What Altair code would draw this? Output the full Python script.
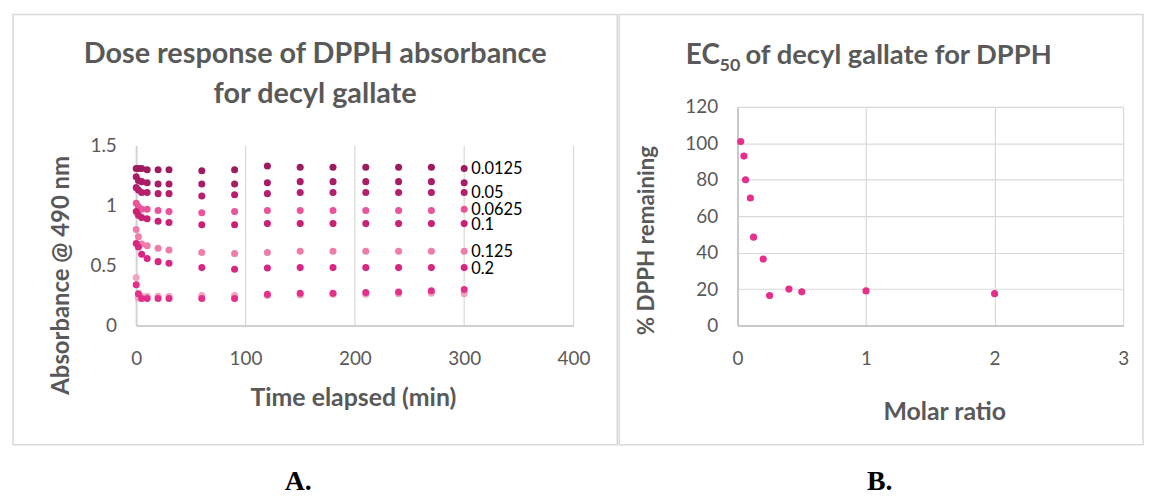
import altair as alt
import pandas as pd

# ---------------- data: panel A ----------------
times = [0, 2, 5, 10, 20, 30, 60, 90, 120, 150, 180, 210, 240, 270, 300]
series_names = ["0.0125", "0.025", "0.05", "0.0625", "0.1", "0.125", "0.2", "0.25", "0.5"]
abs_0_0125 = [1.31, 1.31, 1.31, 1.30, 1.30, 1.30, 1.29, 1.30, 1.33, 1.32, 1.32, 1.32, 1.32, 1.32, 1.31]
abs_0_025 = [1.24, 1.21, 1.20, 1.19, 1.18, 1.18, 1.18, 1.18, 1.19, 1.20, 1.20, 1.20, 1.20, 1.20, 1.19]
abs_0_05 = [1.15, 1.13, 1.11, 1.11, 1.10, 1.10, 1.08, 1.09, 1.10, 1.11, 1.11, 1.11, 1.11, 1.11, 1.11]
abs_0_0625 = [1.02, 0.99, 0.97, 0.97, 0.96, 0.95, 0.94, 0.95, 0.96, 0.96, 0.96, 0.96, 0.96, 0.96, 0.97]
abs_0_1 = [0.95, 0.92, 0.90, 0.89, 0.87, 0.86, 0.84, 0.84, 0.85, 0.85, 0.85, 0.85, 0.85, 0.85, 0.85]
abs_0_125 = [0.80, 0.74, 0.68, 0.665, 0.645, 0.63, 0.61, 0.60, 0.61, 0.62, 0.62, 0.62, 0.62, 0.62, 0.62]
abs_0_2 = [0.685, 0.655, 0.594, 0.56, 0.533, 0.52, 0.483, 0.47, 0.48, 0.483, 0.483, 0.483, 0.483, 0.483, 0.483]
abs_0_25 = [0.40, 0.23, 0.245, 0.245, 0.245, 0.245, 0.25, 0.25, 0.25, 0.255, 0.26, 0.26, 0.265, 0.27, 0.265]
abs_0_5 = [0.34, 0.265, 0.225, 0.225, 0.225, 0.225, 0.225, 0.225, 0.26, 0.27, 0.27, 0.275, 0.28, 0.29, 0.30]
series_values = [abs_0_0125, abs_0_025, abs_0_05, abs_0_0625, abs_0_1,
                 abs_0_125, abs_0_2, abs_0_25, abs_0_5]
series_colors = ["#9e1b5f", "#a91d66", "#b5206d", "#e9559a", "#c92174",
                 "#ee7dab", "#d82783", "#f0a4c3", "#e2308b"]
labelled_series = ["0.0125", "0.05", "0.0625", "0.1", "0.125", "0.2"]
time_ticks = [0, 100, 200, 300, 400]
abs_ticks = [0, 0.5, 1, 1.5]

# ---------------- data: panel B ----------------
molar_ratio = [0.025, 0.05, 0.0625, 0.1, 0.125, 0.2, 0.25, 0.4, 0.5, 1, 2]
pct_remaining = [101, 93, 80, 70, 48.5, 36.5, 16.5, 20, 18.5, 19, 17.5]
ratio_ticks = [0, 1, 2, 3]
pct_ticks = [0, 20, 40, 60, 80, 100, 120]

rows = []
for name, vals in zip(series_names, series_values):
    for t, v in zip(times, vals):
        rows.append({"series": name, "time": t, "absorbance": v})
dfA = pd.DataFrame(rows)
dfA_lab = pd.DataFrame([
    {"series": n, "time": times[-1], "absorbance": series_values[series_names.index(n)][-1]}
    for n in labelled_series
])
dfA_grid = pd.DataFrame({"gx": time_ticks})
dfB = pd.DataFrame({"ratio": molar_ratio, "pct": pct_remaining})
one = pd.DataFrame({"k": [0]})

FONT = "Lato"
GREY = "#595959"
GRID = "#d9d9d9"
FRAME = "#d9d9d9"

# both plot areas share the same top edge so that hconcat aligns them;
# panel A's y range only uses the lower 181 px of its 220 px
W1, H = 440, 220
A_TOP = 39
W2 = 388

def frame(x1, x2, y1, y2):
    return alt.Chart(one).mark_rect(fill="transparent", stroke=FRAME, strokeWidth=1.5).encode(
        x=alt.value(x1), x2=alt.value(x2), y=alt.value(y1), y2=alt.value(y2))

def txt(s, x, y, size, weight="bold", color=GREY, font=FONT, align="center", baseline="middle"):
    return alt.Chart(one).mark_text(text=s, font=font, fontSize=size, fontWeight=weight,
                                    color=color, align=align, baseline=baseline).encode(
        x=alt.value(x), y=alt.value(y))

# ---------------- panel A ----------------
xA = alt.Scale(domain=[0, 400], nice=False)
yA = alt.Scale(domain=[0, 1.5], nice=False, range=[H, A_TOP])

vgrid = alt.Chart(dfA_grid).mark_rule(color=GRID, strokeWidth=1.2).encode(
    x=alt.X("gx:Q", scale=xA), y=alt.datum(0), y2=alt.datum(1.5))

ptsA = alt.Chart(dfA).mark_circle(size=50, opacity=1).encode(
    x=alt.X("time:Q", scale=xA,
            axis=alt.Axis(values=time_ticks, grid=False, title="Time elapsed (min)",
                          titleX=218, titleY=72, titleBaseline="middle", titleFontSize=25,
                          labelPadding=24, labelFlush=False)),
    y=alt.Y("absorbance:Q", scale=yA,
            axis=alt.Axis(values=abs_ticks, format="~g", title="Absorbance @ 490 nm",
                          titleX=-75, titleY=130 + A_TOP, titleBaseline="middle", titleAlign="center",
                          titleFontSize=24, labelPadding=20, labelFlush=False)),
    color=alt.Color("series:N", scale=alt.Scale(domain=series_names, range=series_colors), legend=None),
)
labA = alt.Chart(dfA_lab).mark_text(align="left", baseline="middle", dx=7, dy=1, fontSize=16.5,
                                    font=FONT, color="#000000").encode(
    x="time:Q", y="absorbance:Q", text="series:N")

panelA = alt.layer(
    frame(-124, 484, -132 + A_TOP, 301 + A_TOP),
    vgrid, ptsA, labA,
    txt("Dose response of DPPH absorbance", 180, -92 + A_TOP, 29),
    txt("for decyl gallate", 180, -52 + A_TOP, 29),
    txt("A.", 163, 338 + A_TOP, 28, font="Liberation Serif", color="#000000"),
).properties(width=W1, height=H)

# ---------------- panel B ----------------
ptsB = alt.Chart(dfB).mark_circle(size=52, opacity=1, color="#e52f8a").encode(
    x=alt.X("ratio:Q", scale=alt.Scale(domain=[0, 3], nice=False),
            axis=alt.Axis(values=ratio_ticks, title="Molar ratio",
                          titleX=208, titleY=87, titleBaseline="middle", titleFontSize=25,
                          labelPadding=24, labelFlush=False)),
    y=alt.Y("pct:Q", scale=alt.Scale(domain=[0, 120], nice=False),
            axis=alt.Axis(values=pct_ticks, title="% DPPH remaining",
                          titleX=-92, titleY=134, titleBaseline="middle", titleAlign="center",
                          titleFontSize=22.5, labelPadding=20, labelFlush=False)),
)

panelB = alt.layer(
    frame(-119, 408, -93, 340),
    ptsB,
    txt("EC", -52, -43, 28, align="left", baseline="alphabetic"),
    txt("50", -18, -36, 18, align="left", baseline="alphabetic"),
    txt("of decyl gallate for DPPH", 8, -43, 27.5, align="left", baseline="alphabetic"),
    txt("B.", 143, 377, 28, font="Liberation Serif", color="#000000"),
).properties(width=W2, height=H)

chart = alt.hconcat(panelA, panelB, spacing=0).properties(
    padding={"left": 4, "top": 4, "right": 0, "bottom": 0}
).configure_view(strokeWidth=0).configure_axis(
    labelFont=FONT, labelFontSize=19, labelColor=GREY,
    titleFont=FONT, titleFontSize=22, titleFontWeight="bold", titleColor=GREY,
    gridColor=GRID, gridWidth=1.2, domainColor="#bfbfbf", domainWidth=1.5, ticks=False,
)

chart.save("out.html", embed_options={"renderer": "svg", "actions": False})
